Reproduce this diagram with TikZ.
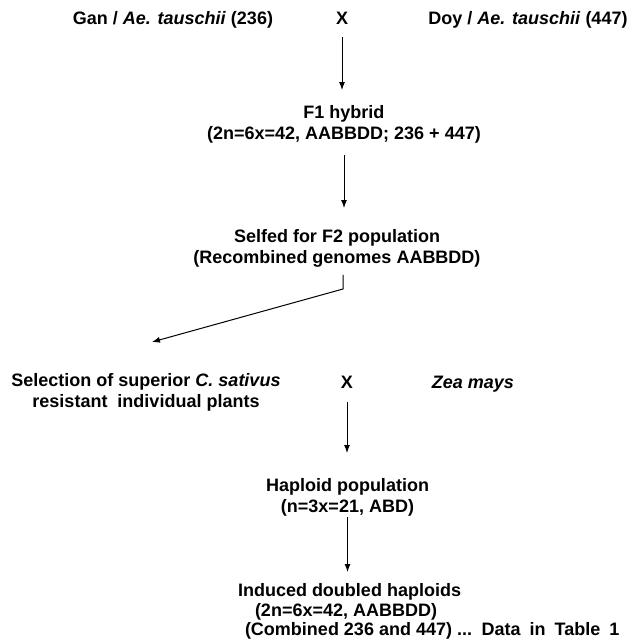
\documentclass[tikz,border=0pt]{standalone}
\usepackage{fontspec}
\setmainfont{Liberation Sans}
\usetikzlibrary{arrows.meta}

\begin{document}
\begin{tikzpicture}[x=1pt,y=-1pt,
    txt/.style={font=\fontsize{18}{20.5}\selectfont\bfseries, inner sep=0pt, outer sep=0pt, align=center},
    arr/.style={-{Latex[length=8pt,width=6pt]}, line width=1pt}]

  % page size
  \useasboundingbox[fill=white] (0,0) rectangle (629,643);

  % first cross
  \node[txt, anchor=base] (gan) at (173,24.5) {Gan / \textit{Ae. tauschii} (236)};
  \node[txt, anchor=base] (cross1) at (342,24.5) {X};
  \node[txt, anchor=base] (doy) at (528,24.5) {Doy / \textit{Ae. tauschii} (447)};

  \node[txt, anchor=north] (f1) at (344,105.5) {F1 hybrid\\(2n=6x=42, AABBDD; 236 + 447)};
  \node[txt, anchor=north] (selfed) at (337,229.5) {Selfed for F2 population\\(Recombined genomes AABBDD)};

  % second cross
  \node[txt, anchor=north] (selection) at (146,373.5) {Selection of superior \textit{C. sativus}\\resistant\ \ individual plants};
  \node[txt, anchor=base] (cross2) at (347,388.5) {X};
  \node[txt, anchor=base] (zea) at (473,388.5) {\textit{Zea mays}};

  \node[txt, anchor=north] (haploid) at (347.5,478.5) {Haploid population\\(n=3x=21, ABD)};
  \node[txt, anchor=north west, align=left, font=\fontsize{18}{19.5}\selectfont\bfseries] (induced) at (238,583.5)
    {Induced doubled haploids\\\hspace*{17pt}(2n=6x=42, AABBDD)\\\hspace*{7pt}(Combined 236 and 447) ...\hspace{3pt} Data\hspace{4pt} in\hspace{4pt} Table\hspace{4pt} 1};

  % bend of the selection arrow
  \coordinate (bend) at (343,289);
  \coordinate (seltip) at (152,342);

  % arrows
  \draw[arr, shorten <=12.5pt, shorten >=15.5pt] (cross1.south) -- (cross1.south |- f1.north);
  \draw[arr, shorten <=12pt, shorten >=21.5pt] (f1.south) -- (f1.south |- selfed.north);
  \draw[arr, shorten <=8pt] (bend |- selfed.south) -- (bend) -- (seltip);
  \draw[arr, shorten <=13.5pt, shorten >=25.5pt] (cross2.south) -- (cross2.south |- haploid.north);
  \draw[arr, shorten <=1.5pt, shorten >=11.5pt] (haploid.south) -- (haploid.south |- induced.north);

\end{tikzpicture}
\end{document}
